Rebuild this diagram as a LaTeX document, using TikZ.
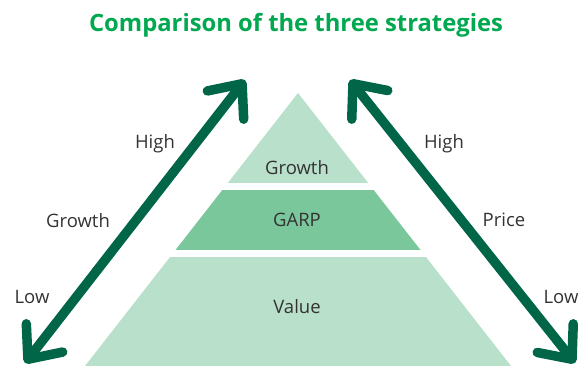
\documentclass[tikz,border=0pt]{standalone}
\usepackage{fontspec}
\setmainfont{Open Sans}
\usetikzlibrary{arrows.meta}

\definecolor{titlegreen}{RGB}{0,168,80}
\definecolor{arrowgreen}{RGB}{0,102,71}
\definecolor{palegreen}{RGB}{185,224,202}
\definecolor{midgreen}{RGB}{122,199,155}
\definecolor{labelgray}{RGB}{51,51,51}

\begin{document}
\begin{tikzpicture}[x=1pt,y=1pt,
		lbl/.style={text=labelgray,font=\fontsize{18.5}{22}\selectfont,anchor=base,inner sep=0pt},
		axisarrow/.style={arrowgreen,line width=9.5pt,line cap=round,
			{Straight Barb[length=27pt,width=46pt,round]}-{Straight Barb[length=27pt,width=46pt,round]}}]
			\useasboundingbox (0,0) rectangle (581,366);
			% Title
			\node[anchor=base,text=titlegreen,font=\bfseries\fontsize{23.8}{28}\selectfont] (title) at (296,334) {Comparison of the three strategies};
			% Pyramid, cut into three bands
			\begin{scope}
				\clip (85,0) -- (298,273) -- (511,0) -- cycle;
				\fill[palegreen] (0,183) rectangle (581,280); % Growth band
				\fill[midgreen] (0,116) rectangle (581,176); % GARP band
				\fill[palegreen] (0,0) rectangle (581,109); % Value band
			\end{scope}
			\node[lbl] (growth) at (297,191) {Growth};
			\node[lbl] (garp) at (297,139) {GARP};
			\node[lbl] (value) at (297,52) {Value};
			% Left arrow: growth
			\coordinate (gLow) at (25,3);
			\coordinate (gHigh) at (245,286);
			\draw[axisarrow] (gLow) -- (gHigh);
			\node[lbl] (gHighLabel) at (155,217) {High};
			\node[lbl] (gName) at (78,138) {Growth};
			\node[lbl] (gLowLabel) at (32,62) {Low};
			% Right arrow: price
			\coordinate (pHigh) at (350,286);
			\coordinate (pLow) at (575,3);
			\draw[axisarrow] (pHigh) -- (pLow);
			\node[lbl] (pHighLabel) at (444,217) {High};
			\node[lbl] (pName) at (504,139) {Price};
			\node[lbl] (pLowLabel) at (561,62) {Low};
		\end{tikzpicture}
\end{document}
